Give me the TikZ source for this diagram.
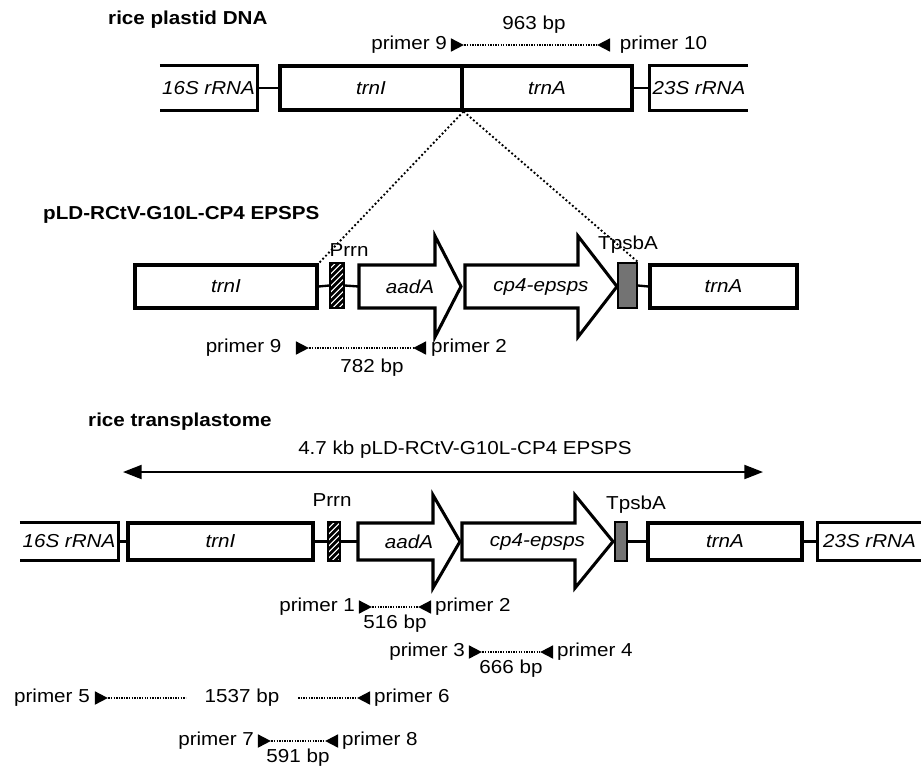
\documentclass[tikz,border=0pt]{standalone}
\usepackage{fontspec}
\setmainfont{Liberation Sans}[FakeStretch=1.1]
\usetikzlibrary{arrows.meta, fit, positioning, patterns.meta, shapes.geometric}

\tikzset{
  box/.style={draw, line width=2.6pt, inner sep=0pt},
  openbox/.style={inner sep=0pt},
  genetxt/.style={inner sep=0pt, font=\itshape},
  edge/.style={line width=2.6pt},
  link/.style={line width=2pt},
  genearr/.style={draw, line width=2.6pt, fill=white},
  hatch/.style={draw, line width=1.6pt, inner sep=0pt, preaction={fill=black},
    pattern={Lines[angle=45, distance=4pt, line width=1.3pt]}, pattern color=white},
  shade/.style={draw, line width=1.6pt, inner sep=0pt, fill=black!55},
  fwd/.style={isosceles triangle, isosceles triangle stretches, fill=black,
    inner sep=0pt, minimum width=11.5pt, minimum height=11pt},
  rev/.style={fwd, shape border rotate=180},
  amp/.style={densely dotted, line width=1.2pt},
  zoomline/.style={dotted, line width=1.6pt},
  span/.style={line width=1.7pt, {Triangle[length=16pt, width=12pt]}-{Triangle[length=16pt, width=12pt]}},
  plabel/.style={inner sep=0pt},
  title/.style={font=\bfseries, anchor=west, inner sep=0pt}
}

\begin{document}
\begin{tikzpicture}[x=0.03cm, y=-0.03cm]
  \fontsize{16}{18}\selectfont
  \useasboundingbox (0,0) rectangle (921,771);

  % rice plastid DNA
  \node[title] (t1) at (108,20) {rice plastid DNA};
  \node[openbox, fit={(160,66) (257,110)}, label={[genetxt]center:16S rRNA}] (s16a) {};
  \draw[edge] (s16a.north west) -- (s16a.north east) -- (s16a.south east) -- (s16a.south west);
  \node[box, fit={(280,66) (462,110)}, label={[genetxt]center:trnI}] (trnIa) {};
  \node[box, fit={(462,66) (632,110)}, label={[genetxt]center:trnA}] (trnAa) {};
  \node[openbox, fit={(650,66) (748,110)}, label={[genetxt]center:23S rRNA}] (s23a) {};
  \draw[edge] (s23a.north east) -- (s23a.north west) -- (s23a.south west) -- (s23a.south east);
  \draw[link] (s16a.east) -- (trnIa.west);
  \draw[link] (trnAa.east) -- (s23a.west);
  \node[fwd] (p9a) at (455,45) {};
  \node[rev] (p10a) at (606,45) {};
  \draw[amp] (p9a) -- (p10a);
  \node[plabel, left=3pt of p9a] (l9a) {primer 9};
  \node[plabel, right=8pt of p10a] (l10a) {primer 10};
  \node (bp963) at (534,25) {963 bp};

  % pLD vector
  \node[title] (t2) at (43,215) {pLD-RCtV-G10L-CP4 EPSPS};
  \node[box, fit={(135,265) (317,308)}, label={[genetxt]center:trnI}] (trnIb) {};
  \node[hatch, fit={(330,263) (344,308)}] (prrnb) {};
  \draw[genearr] (359,265) -- (435,265) -- (435,236) -- (461,286.5)
    -- (435,337) -- (435,308) -- (359,308) -- cycle;
  \node[openbox, fit={(359,265) (461,308)}, label={[genetxt]center:aadA}] (aadAb) {};
  \draw[genearr] (465,265) -- (578,265) -- (578,236) -- (617,286.5)
    -- (578,337) -- (578,308) -- (465,308) -- cycle;
  \node[openbox, fit={(465,265) (617,308)}, label={[genetxt]center:cp4-epsps}] (cp4b) {};
  \node[shade, fit={(618,263) (637,308)}] (tpsbAb) {};
  \node[box, fit={(650,265) (797,308)}, label={[genetxt]center:trnA}] (trnAb) {};
  \draw[link] (trnIb.east) -- (prrnb.west);
  \draw[link] (prrnb.east) -- (aadAb.west);
  \draw[link] (tpsbAb.east) -- (trnAb.west);
  \node (prrnlb) at (349,250) {Prrn};
  \node (tpsblb) at (628,245) {TpsbA};
  \draw[zoomline] (trnIa.south east) -- (trnIb.north east);
  \draw[zoomline] (trnIa.south east) -- (tpsbAb.north east);
  \node[fwd] (p9b) at (300,348) {};
  \node[rev] (p2b) at (422,348) {};
  \draw[amp] (p9b) -- (p2b);
  \node[plabel, left=12pt of p9b] (l9b) {primer 9};
  \node[plabel, right=4pt of p2b] (l2b) {primer 2};
  \node (bp782) at (372,368) {782 bp};

  % rice transplastome
  \node[title] (t3) at (88,422) {rice transplastome};
  \coordinate (spanL) at (123,472);
  \coordinate (spanR) at (763,472);
  \draw[span] (spanL) -- (spanR);
  \node (spanlbl) at (465,450) {4.7 kb pLD-RCtV-G10L-CP4 EPSPS};
  \node[openbox, fit={(20,523) (118,560)}, label={[genetxt]center:16S rRNA}] (s16c) {};
  \draw[edge] (s16c.north west) -- (s16c.north east) -- (s16c.south east) -- (s16c.south west);
  \node[box, fit={(128,523) (313,560)}, label={[genetxt]center:trnI}] (trnIc) {};
  \node[hatch, fit={(328,522) (340,561)}] (prrnc) {};
  \draw[genearr] (358,523) -- (433,523) -- (433,495) -- (460,541.5)
    -- (433,588) -- (433,560) -- (358,560) -- cycle;
  \node[openbox, fit={(358,523) (460,560)}, label={[genetxt]center:aadA}] (aadAc) {};
  \draw[genearr] (462,523) -- (575,523) -- (575,495) -- (613,541.5)
    -- (575,588) -- (575,560) -- (462,560) -- cycle;
  \node[openbox, fit={(462,523) (613,560)}, label={[genetxt]center:cp4-epsps}] (cp4c) {};
  \node[shade, fit={(615,522) (627,561)}] (tpsbAc) {};
  \node[box, fit={(648,523) (802,560)}, label={[genetxt]center:trnA}] (trnAc) {};
  \node[openbox, fit={(818,523) (921,560)}, label={[genetxt]center:23S rRNA}] (s23c) {};
  \draw[edge] (s23c.north east) -- (s23c.north west) -- (s23c.south west) -- (s23c.south east);
  \draw[link] (s16c.east) -- (trnIc.west);
  \draw[link] (trnIc.east) -- (prrnc.west);
  \draw[link] (prrnc.east) -- (aadAc.west);
  \draw[link] (tpsbAc.east) -- (trnAc.west);
  \draw[link] (trnAc.east) -- (s23c.west);
  \node (prrnlc) at (332,500) {Prrn};
  \node (tpsblc) at (636,505) {TpsbA};

  % PCR products
  \foreach \f/\r/\xf/\xr/\yy/\bp in {1/2/363/427/607/516, 3/4/473/549/652/666, 7/8/262/334/741/591} {
    \node[fwd] (pf\f) at (\xf,\yy) {};
    \node[rev] (pr\r) at (\xr,\yy) {};
    \draw[amp] (pf\f) -- (pr\r);
    \node[plabel, left=3pt of pf\f] (lf\f) {primer \f};
    \node[plabel, right=3pt of pr\r] (lr\r) {primer \r};
    \node (bp\bp) at ({(\xf+\xr)/2},\yy+17) {\bp\ bp};
  }
  \node[fwd] (pf5) at (99,698) {};
  \node[rev] (pr6) at (366,698) {};
  \node[inner xsep=16pt] (bp1537) at (242,698) {1537 bp};
  \draw[amp] (pf5) -- (bp1537);
  \draw[amp] (bp1537) -- (pr6);
  \node[plabel, left=4pt of pf5] (lf5) {primer 5};
  \node[plabel, right=3pt of pr6] (lr6) {primer 6};
\end{tikzpicture}
\end{document}
